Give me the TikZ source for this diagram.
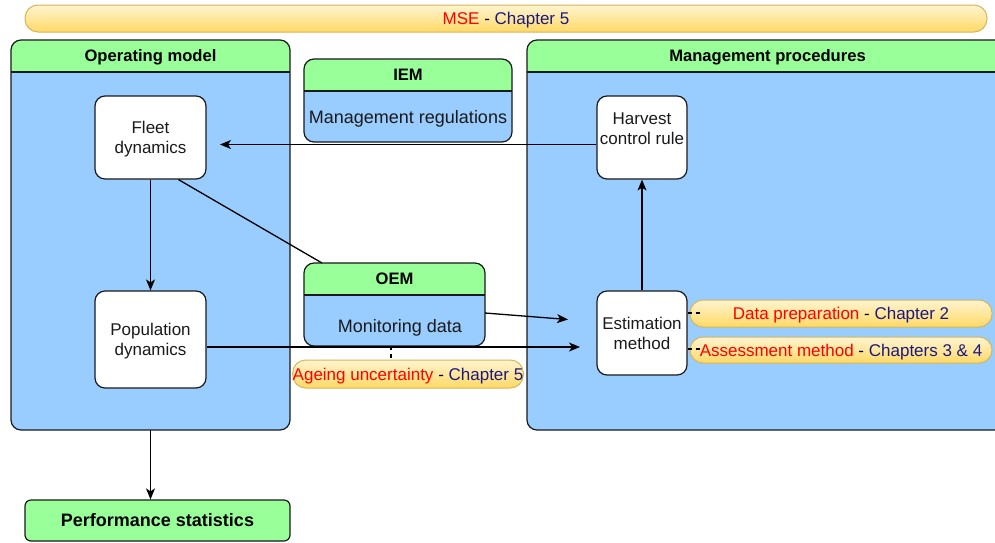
\documentclass[tikz,border=0pt]{standalone}
\usepackage{fontspec}
\setmainfont{Liberation Sans}
\usetikzlibrary{arrows.meta,calc}
\definecolor{hdr}{HTML}{99FF99}
\definecolor{bdy}{HTML}{99CCFF}
\definecolor{pillA}{HTML}{FFF4D0}
\definecolor{pillB}{HTML}{FFD966}
\definecolor{pillE}{HTML}{D6B656}
\definecolor{navy}{HTML}{1A1A80}
\definecolor{redt}{HTML}{FF0000}
\definecolor{edge}{HTML}{1A1A1A}
\newcommand{\mkcont}[8]{%
  % name, x1, y1, x2, y2, yh, title, title font size
  \node[inner sep=0pt, outer sep=0pt, minimum width={#4-#2}, minimum height={#5-#3}] (#1) at ({(#2+#4)/2},{(#3+#5)/2}) {};
  \fill[bdy, rounded corners=10] (#2,#3) rectangle (#4,#5);
  \begin{scope}
    \clip[rounded corners=10] (#2,#3) rectangle (#4,#5);
    \fill[hdr] (#2,#3) rectangle (#4,#6);
  \end{scope}
  \draw[edge, line width=1.2pt, rounded corners=10] (#2,#3) rectangle (#4,#5);
  \draw[edge, line width=1.2pt] (#2,#6) -- (#4,#6);
  \node[titletext] (#1t) at ({(#2+#4)/2},{(#3+#6)/2}) {#7};
}
\tikzset{
  titletext/.style={font=\fontsize{16.6}{19}\selectfont\bfseries, text=black, inner sep=0pt,
    text height=11.9pt, text depth=0pt},
  wbox/.style={draw=edge, fill=white, line width=1.2pt, rounded corners=10, inner sep=0pt,
    align=center, font=\fontsize{17}{20}\selectfont, text=edge, text height=32.2pt, text depth=0pt},
  pill/.style={draw=pillE, line width=1pt, top color=pillA, bottom color=pillB, rounded corners=13,
    inner sep=0pt, font=\fontsize{17}{20}\selectfont, text height=12.2pt, text depth=0pt},
  conn/.style={draw=black, line width=1.3pt},
  arr/.style={conn, -{Stealth[length=11pt, width=9pt, inset=3pt]}},
  dconn/.style={draw=black, line width=1.1pt, dash pattern=on 4pt off 4pt},
  plain/.style={inner sep=0pt, font=\fontsize{18}{21}\selectfont, text=edge, text height=12.9pt, text depth=0pt}
}
\begin{document}
\begin{tikzpicture}[x=1pt, y=-1pt]
\useasboundingbox[fill=white] (0,0) rectangle (995,542);

% top banner
\node[pill, minimum width=962, minimum height=27] (mse) at (506,18.5)
  {\textcolor{redt}{MSE} - \textcolor{navy}{Chapter 5}};

% containers
\mkcont{om}{11}{40}{290}{430}{72}{Operating model}{16.6}
\mkcont{mp}{527}{40}{1008}{430}{72}{Management procedures}{16.6}
\mkcont{iem}{304}{59}{512}{142}{91}{IEM}{16.6}
\mkcont{oem}{304}{263}{485}{346}{295}{OEM}{16.6}
\node[plain] (iemb) at (408,117) {Management regulations};
\node[plain] (oemb) at (400,326) {Monitoring data};

% performance statistics
\node[draw=edge, fill=hdr, line width=1.2pt, rounded corners=6, minimum width=265, minimum height=41,
  inner sep=0pt, font=\fontsize{18}{21}\selectfont\bfseries, text height=12.9pt, text depth=0pt]
  (perf) at (157.5,520.5) {Performance statistics};

% inner boxes
\node[wbox, minimum width=111, minimum height=83] (fleet) at (150.5,137.5) {Fleet\\dynamics};
\node[wbox, minimum width=111, minimum height=97] (pop) at (150.5,339.5) {Population\\dynamics};
\node[wbox, minimum width=90, minimum height=83] (hcr) at (642,137.5) {};
\node[inner sep=0pt, align=center, font=\fontsize{17}{20}\selectfont, text=edge,
  text height=32.2pt, text depth=0pt] (hcrt) at (642,128) {Harvest\\control rule};
\node[wbox, minimum width=90, minimum height=84] (est) at (642,333) {Estimation\\method};

% free ends
\coordinate (fa) at (220,144.5);
\coordinate (pa) at (580,347);
\coordinate (oa) at (568,319.5);

% connectors
\draw[arr] ($(hcr.west)+(0,7)$) -- (fa);
\draw[arr] (fleet.south) -- (pop.north);
\draw[conn] ($(fleet.south)+(28,0)$) -- ($(oem.north west)+(18,0)$);
\draw[arr] (est.north) -- (hcr.south);
\draw[arr] ($(pop.east)+(0,7.5)$) -- (pa);
\draw[arr] ($(oem.east)+(0,8.5)$) -- (oa);
\draw[arr] (om.south) -- (om.south |- perf.north);

% chapter labels
\node[pill, minimum width=302, minimum height=27] (dp) at (841,313.5)
  {\textcolor{redt}{Data preparation} - \textcolor{navy}{Chapter 2}};
\node[pill, minimum width=302, minimum height=26] (am) at (841,350)
  {\textcolor{redt}{Assessment method} - \textcolor{navy}{Chapters 3 \& 4}};
\node[pill, minimum width=230, minimum height=28] (au) at (408,374)
  {\textcolor{redt}{Ageing uncertainty} - \textcolor{navy}{Chapter 5}};

\coordinate (ad) at (391,346);
\draw[dconn] ($(est.east)+(0,-20)$) -- ($(est.east)+(13,-20)$);
\draw[dconn] ($(est.east)+(0,16)$) -- ($(est.east)+(13,16)$);
\draw[dconn] (ad) -- (ad |- au.north);
\end{tikzpicture}
\end{document}
